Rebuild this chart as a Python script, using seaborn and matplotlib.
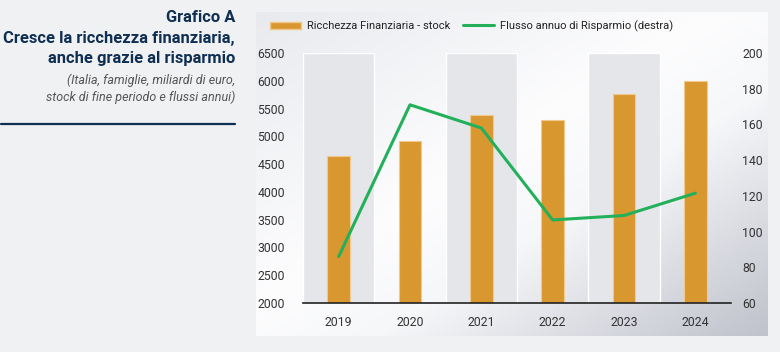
import numpy as np
import pandas as pd
import matplotlib
matplotlib.use("Agg")
import matplotlib.pyplot as plt
import seaborn as sns
from matplotlib.colors import LinearSegmentedColormap
from matplotlib.patches import Patch
from matplotlib.lines import Line2D

years = ["2019", "2020", "2021", "2022", "2023", "2024"]
ricchezza = [4650, 4910, 5390, 5290, 5760, 6000]
risparmio = [86, 171, 158, 106.5, 109, 121.5]
left_ticks = list(range(2000, 6501, 500))
right_ticks = list(range(60, 201, 20))

df = pd.DataFrame({"anno": years, "ricchezza": ricchezza, "risparmio": risparmio})

sns.set_theme(style="white")
plt.rcParams["font.family"] = ["Roboto", "DejaVu Sans"]

W, H = 780, 352
fig = plt.figure(figsize=(W / 100, H / 100), dpi=100)
fig.patch.set_facecolor("#f0f1f3")

def box(x0, y0, x1, y1):
    return [x0 / W, 1 - y1 / H, (x1 - x0) / W, (y1 - y0) / H]

# panel with diagonal gradient
bg = fig.add_axes(box(256, 12, 768, 336))
gx, gy = np.meshgrid(np.linspace(0, 1, 300), np.linspace(0, 1, 200))
grad = (gx + gy) / 2
cmap = LinearSegmentedColormap.from_list(
    "panel", [(0, "#e8eaee"), (0.45, "#fdfdfe"), (0.62, "#f6f7f9"), (1, "#c0c2cc")])
bg.imshow(grad, cmap=cmap, aspect="auto", extent=[0, 1, 1, 0])
bg.set_axis_off()

ax = fig.add_axes(box(303, 53, 731, 303))
ax.patch.set_alpha(0)

# alternating shaded bands
for i in range(0, len(years), 2):
    ax.bar(i, 6500 - 2000, bottom=2000, width=1.0, color="#e5e6ea", zorder=0)

sns.barplot(data=df, x="anno", y="ricchezza", color="#d9972f", width=0.32,
            edgecolor="#efc98d", linewidth=0.8, saturation=1, ax=ax, zorder=2)
ax.set_ylim(2000, 6500)
ax.set_xlim(-0.5, 5.5)
ax.set_yticks(left_ticks)
ax.set_xlabel("")
ax.set_ylabel("")
for s in ["top", "right", "left"]:
    ax.spines[s].set_visible(False)
ax.spines["bottom"].set_color("#222222")
ax.spines["bottom"].set_linewidth(1.2)
ax.tick_params(axis="y", length=0, pad=13, labelsize=8.8, labelcolor="#333333")
ax.tick_params(axis="x", length=0, pad=9, labelsize=8.8, labelcolor="#333333")

ax2 = ax.twinx()
sns.lineplot(x=np.arange(len(years)), y=risparmio, color="#23b05b", linewidth=2.2, ax=ax2)
ax2.set_ylim(60, 200)
ax2.set_yticks(right_ticks)
for s in ["top", "right", "left", "bottom"]:
    ax2.spines[s].set_visible(False)
ax2.tick_params(axis="y", length=0, pad=8, labelsize=8.8, labelcolor="#333333")
ax2.grid(False)
ax.grid(False)

handles = [Patch(facecolor="#d9972f", edgecolor="#efc98d"),
           Line2D([0], [0], color="#23b05b", lw=2.2)]
fig.legend(handles, ["Ricchezza Finanziaria - stock", "Flusso annuo di Risparmio (destra)"],
           loc="center left", bbox_to_anchor=(260 / W, 1 - 26 / H), ncol=2, frameon=False,
           fontsize=8, handlelength=2.8, handleheight=0.6, columnspacing=1.2,
           handletextpad=0.5, labelcolor="#222222")

navy = "#0f2f52"
fig.text(235 / W, 1 - 18 / H, "Grafico A", ha="right", va="center",
         fontsize=11.9, fontweight="bold", color=navy)
fig.text(235 / W, 1 - 39 / H, "Cresce la ricchezza finanziaria,", ha="right", va="center",
         fontsize=11.9, fontweight="bold", color=navy)
fig.text(235 / W, 1 - 59 / H, "anche grazie al risparmio", ha="right", va="center",
         fontsize=11.9, fontweight="bold", color=navy)
fig.text(235 / W, 1 - 80 / H, "(Italia, famiglie, miliardi di euro,", ha="right", va="center",
         fontsize=9, style="italic", color="#555555")
fig.text(235 / W, 1 - 97 / H, "stock di fine periodo e flussi annui)", ha="right", va="center",
         fontsize=9, style="italic", color="#555555")
fig.add_artist(Line2D([1 / W, 235 / W], [1 - 124 / H] * 2, color=navy, lw=1.6))

fig.savefig("out.png", dpi=100, facecolor=fig.get_facecolor())
